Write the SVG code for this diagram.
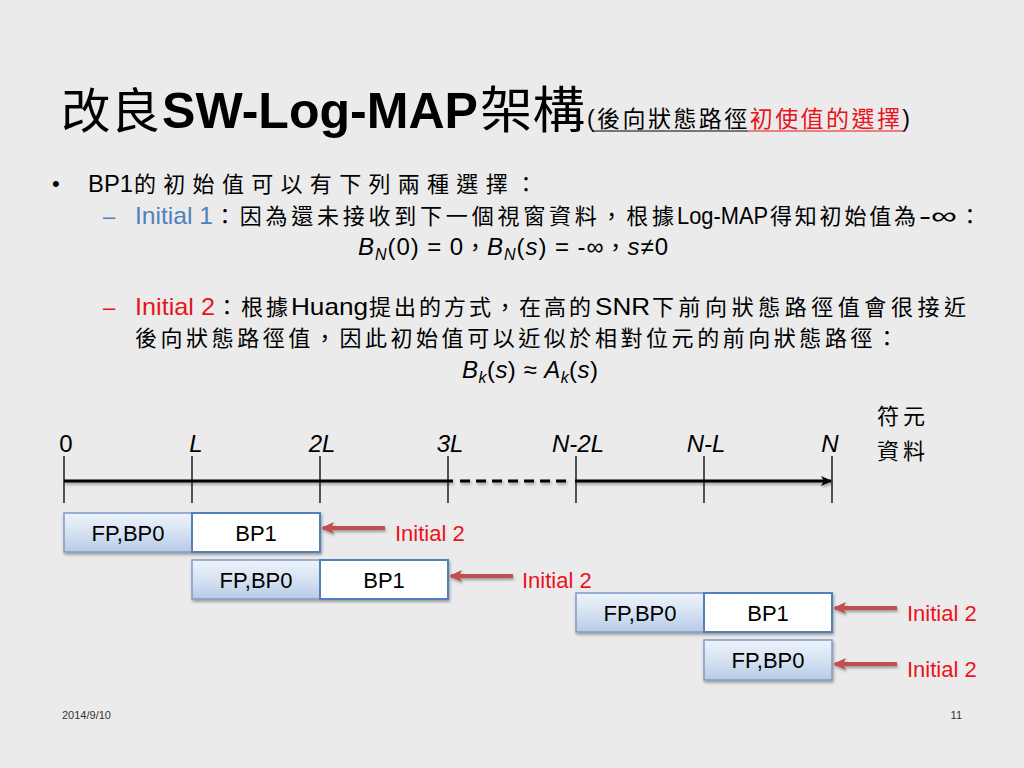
<svg xmlns="http://www.w3.org/2000/svg" width="1024" height="768" viewBox="0 0 1024 768">
<defs>
<linearGradient id="gBox" x1="0" y1="0" x2="0" y2="1">
<stop offset="0" stop-color="#eef3fa"/>
<stop offset="0.5" stop-color="#d6e2f2"/>
<stop offset="1" stop-color="#b7cbe6"/>
</linearGradient>
<filter id="sh" filterUnits="userSpaceOnUse" x="0" y="0" width="1024" height="768">
<feGaussianBlur in="SourceAlpha" stdDeviation="1.5"/>
<feOffset dx="1" dy="2" result="b"/>
<feComponentTransfer><feFuncA type="linear" slope="0.35"/></feComponentTransfer>
<feMerge><feMergeNode/><feMergeNode in="SourceGraphic"/></feMerge>
</filter>
<marker id="ahR" markerWidth="14" markerHeight="14" refX="11" refY="7" orient="auto" markerUnits="userSpaceOnUse">
<path d="M0,1 L13,7 L0,13 L3,7 Z" fill="#c0504d"/>
</marker>
<marker id="ahK" markerWidth="12" markerHeight="12" refX="10" refY="6" orient="auto" markerUnits="userSpaceOnUse">
<path d="M0,1 L11,6 L0,11 L3,6 Z" fill="#000"/>
</marker>
<style>
.lat{font-family:"Liberation Sans",Arial,"Noto Sans CJK TC",sans-serif}
.cjk{font-family:"Noto Sans CJK TC","Noto Sans CJK SC",sans-serif;fill:#000}
.l24{font-family:"Liberation Sans",Arial,sans-serif;font-size:24px;fill:#000}
.c22{font-family:"Noto Sans CJK TC","Noto Sans CJK SC",sans-serif;font-size:22px;fill:#000}
.tl{font-family:"Liberation Sans",Arial,sans-serif;font-size:24px;font-style:italic;text-anchor:middle}
.tick{stroke:#000;stroke-width:1.3}
.fp{fill:url(#gBox);stroke:#7e9cc8;stroke-width:1.5}
.bp{fill:#fff;stroke:#4f81bd;stroke-width:2}
.bt{font-family:"Liberation Sans",Arial,sans-serif;font-size:22px;text-anchor:middle;fill:#000}
.arr{stroke:#c0504d;stroke-width:4;fill:none;marker-end:url(#ahR)}
.lbl{font-family:"Liberation Sans",Arial,sans-serif;font-size:22px;fill:#e8141c}
.red{fill:#e8141c}
.blue{fill:#4f81bd}
.it{font-style:italic}
</style>
</defs>
<rect width="1024" height="768" fill="#ebebeb"/>

<g id="title">
<text x="61" y="128" class="cjk" font-size="48" textLength="99" lengthAdjust="spacingAndGlyphs">改良</text>
<text x="162" y="128" class="lat" font-size="50" font-weight="bold" fill="#000" textLength="316" lengthAdjust="spacingAndGlyphs">SW-Log-MAP</text>
<text x="480" y="128" class="cjk" font-size="50" textLength="105" lengthAdjust="spacingAndGlyphs">架構</text>
<text x="587" y="127" class="cjk" font-size="23" textLength="323" lengthAdjust="spacing"><tspan class="lat">(</tspan>後向狀態路徑<tspan class="red">初使值的選擇</tspan><tspan class="lat">)</tspan></text>
<line x1="592" y1="131" x2="748" y2="131" stroke="#000" stroke-width="1.2"/>
<line x1="748" y1="131" x2="905" y2="131" stroke="#e8141c" stroke-width="1.2"/>
</g>

<g id="bullets">
<text x="52" y="191" class="lat" font-size="22" fill="#000">•</text>
<text x="88" y="192" class="l24" textLength="45" lengthAdjust="spacingAndGlyphs">BP1</text>
<text x="134" y="192" class="c22" font-size="23" textLength="403" lengthAdjust="spacing">的初始值可以有下列兩種選擇：</text>

<text x="103" y="224" class="lat blue" font-size="22">–</text>
<text x="135" y="224" class="l24 blue" textLength="78" lengthAdjust="spacingAndGlyphs">Initial 1</text>
<text x="214" y="224" class="c22" textLength="460" lengthAdjust="spacing">：因為還未接收到下一個視窗資料，根據</text>
<text x="677" y="224" class="l24" textLength="91" lengthAdjust="spacingAndGlyphs">Log-MAP</text>
<text x="770" y="224" class="c22" textLength="146" lengthAdjust="spacing">得知初始值為</text>
<text x="919" y="224" class="l24" textLength="38" lengthAdjust="spacingAndGlyphs">-∞</text>
<text x="959" y="224" class="c22">：</text>

<text x="358" y="255" class="l24" textLength="310" lengthAdjust="spacing"><tspan class="it">B</tspan><tspan class="it" font-size="16" dy="5">N</tspan><tspan dy="-5">(0) = 0</tspan><tspan class="c22">，</tspan><tspan class="it">B</tspan><tspan class="it" font-size="16" dy="5">N</tspan><tspan dy="-5">(</tspan><tspan class="it">s</tspan>) = -∞<tspan class="c22">，</tspan><tspan class="it">s</tspan>≠0</text>

<text x="103" y="315" class="lat red" font-size="22">–</text>
<text x="135" y="315" class="l24 red" textLength="80" lengthAdjust="spacingAndGlyphs">Initial 2</text>
<text x="216" y="315" class="c22" textLength="72" lengthAdjust="spacing">：根據</text>
<text x="291" y="315" class="l24" textLength="77" lengthAdjust="spacingAndGlyphs">Huang</text>
<text x="369" y="315" class="c22" textLength="222" lengthAdjust="spacing">提出的方式，在高的</text>
<text x="595" y="315" class="l24" textLength="55" lengthAdjust="spacingAndGlyphs">SNR</text>
<text x="652" y="315" class="c22" textLength="314" lengthAdjust="spacing">下前向狀態路徑值會很接近</text>
<text x="135" y="346" class="c22" textLength="763" lengthAdjust="spacing">後向狀態路徑值，因此初始值可以近似於相對位元的前向狀態路徑：</text>
<text x="462" y="378" class="l24" textLength="136" lengthAdjust="spacing"><tspan class="it">B</tspan><tspan class="it" font-size="16" dy="5">k</tspan><tspan dy="-5">(</tspan><tspan class="it">s</tspan>) ≈ <tspan class="it">A</tspan><tspan class="it" font-size="16" dy="5">k</tspan><tspan dy="-5">(</tspan><tspan class="it">s</tspan>)</text>
</g>

<g id="timeline">
<text x="66" y="452" class="tl" style="font-style:normal">0</text>
<text x="196" y="452" class="tl">L</text>
<text x="322" y="452" class="tl">2L</text>
<text x="450" y="452" class="tl">3L</text>
<text x="578" y="452" class="tl">N-2L</text>
<text x="706" y="452" class="tl">N-L</text>
<text x="830" y="452" class="tl">N</text>
<text x="877" y="424" class="c22" letter-spacing="4">符元</text>
<text x="877" y="459" class="c22" letter-spacing="4">資料</text>
<line class="tick" x1="64" y1="456" x2="64" y2="503"/>
<line class="tick" x1="192" y1="456" x2="192" y2="503"/>
<line class="tick" x1="320" y1="456" x2="320" y2="503"/>
<line class="tick" x1="448" y1="456" x2="448" y2="503"/>
<line class="tick" x1="576" y1="456" x2="576" y2="503"/>
<line class="tick" x1="704" y1="456" x2="704" y2="503"/>
<line class="tick" x1="832" y1="456" x2="832" y2="503"/>
<g filter="url(#sh)">
<line x1="64" y1="481" x2="453" y2="481" stroke="#000" stroke-width="3"/>
<line x1="460" y1="481" x2="570" y2="481" stroke="#000" stroke-width="3" stroke-dasharray="10,6"/>
<line x1="575" y1="481" x2="831" y2="481" stroke="#000" stroke-width="3" marker-end="url(#ahK)"/>
</g>
</g>

<g id="row1" filter="url(#sh)">
<rect class="fp" x="64" y="513" width="128" height="39"/>
<rect class="bp" x="192" y="513" width="128" height="39"/>
</g>
<text x="128" y="541" class="bt">FP,BP0</text>
<text x="256" y="541" class="bt">BP1</text>

<g id="row2" filter="url(#sh)">
<rect class="fp" x="192" y="560" width="128" height="39"/>
<rect class="bp" x="320" y="560" width="128" height="39"/>
</g>
<text x="256" y="588" class="bt">FP,BP0</text>
<text x="384" y="588" class="bt">BP1</text>

<g id="row3" filter="url(#sh)">
<rect class="fp" x="576" y="593" width="128" height="39"/>
<rect class="bp" x="704" y="593" width="128" height="39"/>
</g>
<text x="640" y="621" class="bt">FP,BP0</text>
<text x="768" y="621" class="bt">BP1</text>

<g id="row4" filter="url(#sh)">
<rect class="fp" x="704" y="640" width="128" height="40"/>
</g>
<text x="768" y="668" class="bt">FP,BP0</text>

<g id="connectors" filter="url(#sh)">
<line class="arr" x1="385" y1="528" x2="323" y2="528"/>
<line class="arr" x1="513" y1="576" x2="451" y2="576"/>
<line class="arr" x1="897" y1="608" x2="835" y2="608"/>
<line class="arr" x1="897" y1="664" x2="835" y2="664"/>
</g>

<g id="labels">
<text x="395" y="541" class="lbl">Initial 2</text>
<text x="522" y="588" class="lbl">Initial 2</text>
<text x="907" y="621" class="lbl">Initial 2</text>
<text x="907" y="677" class="lbl">Initial 2</text>
</g>

<g id="footer">
<text x="62" y="719" class="lat" font-size="11" fill="#333">2014/9/10</text>
<text x="962" y="719" class="lat" font-size="11" fill="#333" text-anchor="end">11</text>
</g>
</svg>
